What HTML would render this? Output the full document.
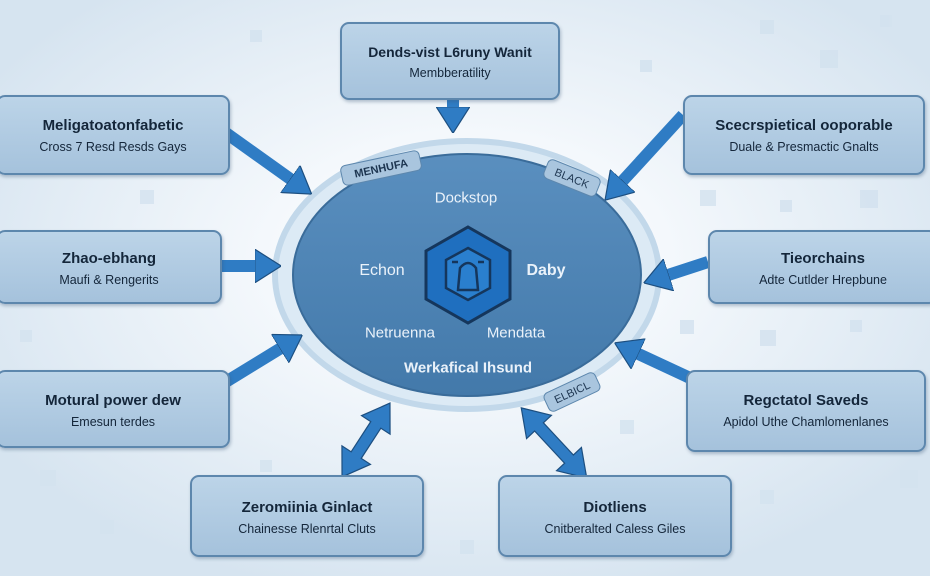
<!DOCTYPE html>
<html><head><meta charset="utf-8"><style>
body{margin:0;width:930px;height:576px;overflow:hidden;background:#eef4f9;font-family:"Liberation Sans",sans-serif;}
svg{position:absolute;left:0;top:0}
.b{position:absolute;background:linear-gradient(#bcd4e8,#a5c2dc);border:2px solid #5d87ad;border-radius:9px;text-align:center;box-shadow:1px 2px 3px rgba(60,90,120,.35);color:#14263a}
.b .t{font-weight:bold;font-size:15px;margin-top:20px}
.b .s{font-size:12.5px;margin-top:6px}
.l{position:absolute;color:#eaf2fa;font-size:15px;transform:translate(-50%,-50%);white-space:nowrap}
</style></head><body>
<svg width="930" height="576">
<defs>
<radialGradient id="bg" cx="0.5" cy="0.45" r="0.6"><stop offset="0.3" stop-color="#f7fafd"/><stop offset="1" stop-color="#d6e4f0"/></radialGradient>
<linearGradient id="el" x1="0" y1="0" x2="0" y2="1"><stop offset="0" stop-color="#5a8fbf"/><stop offset="1" stop-color="#4379aa"/></linearGradient>
<marker id="ah" markerWidth="2.2" markerHeight="2.8" refX="0.6" refY="1.4" orient="auto" markerUnits="strokeWidth"><path d="M0,0 L2.2,1.4 L0,2.8z" fill="#2f7cc4" stroke="#1d4f80" stroke-width="0.1"/></marker>
</defs>
<rect width="930" height="576" fill="url(#bg)"/>
<g fill="#d3e2ef" opacity="0.8">
<rect x="760" y="20" width="14" height="14"/><rect x="820" y="50" width="18" height="18"/><rect x="880" y="15" width="12" height="12"/><rect x="640" y="60" width="12" height="12"/><rect x="700" y="190" width="16" height="16"/><rect x="780" y="200" width="12" height="12"/><rect x="860" y="190" width="18" height="18"/><rect x="680" y="320" width="14" height="14"/><rect x="760" y="330" width="16" height="16"/><rect x="850" y="320" width="12" height="12"/><rect x="900" y="470" width="18" height="18"/><rect x="760" y="490" width="14" height="14"/><rect x="40" y="470" width="16" height="16"/><rect x="100" y="520" width="14" height="14"/><rect x="20" y="330" width="12" height="12"/><rect x="140" y="190" width="14" height="14"/><rect x="250" y="30" width="12" height="12"/><rect x="460" y="540" width="14" height="14"/><rect x="620" y="420" width="14" height="14"/><rect x="260" y="460" width="12" height="12"/>
</g>
<ellipse cx="467" cy="275" rx="192" ry="134" fill="#dceaf5" stroke="#c2d8ea" stroke-width="6"/>
<ellipse cx="467" cy="275" rx="174" ry="121" fill="url(#el)" stroke="#3a6c9a" stroke-width="2"/>
<polygon points="468,227 510,251 510,299 468,323 426,299 426,251" fill="#1f6fbf" stroke="#15365c" stroke-width="3"/>
<polygon points="468,248 490,260 490,288 468,300 446,288 446,260" fill="#2a7fce" stroke="#15365c" stroke-width="2.5"/>
<path d="M458,290 L460,268 Q468,258 476,268 L478,290 Z M452,262 l6,0 M478,262 l6,0" fill="none" stroke="#15365c" stroke-width="2.5"/>
<g stroke="#2f7cc4" stroke-width="12" fill="none" marker-end="url(#ah)">
<line x1="453" y1="98" x2="453" y2="114"/>
<line x1="226" y1="133" x2="296" y2="183"/>
<line x1="212" y1="266" x2="262" y2="266"/>
<line x1="224" y1="383" x2="286" y2="345"/>
<line x1="683" y1="115" x2="618" y2="186"/>
<line x1="708" y1="262" x2="662" y2="277"/>
<line x1="690" y1="378" x2="632" y2="351"/>
</g>
<g fill="#2f7cc4" stroke="#1d4f80" stroke-width="1.2">
<polygon transform="translate(366,440) rotate(-57)" points="-44,0 -18,-17 -18,-6 18,-6 18,-17 44,0 18,17 18,6 -18,6 -18,17"/>
<polygon transform="translate(554,443) rotate(47)" points="-48,0 -22,-17 -22,-6 22,-6 22,-17 48,0 22,17 22,6 -22,6 -22,17"/>
</g>
<g font-size="11" font-family="Liberation Sans" fill="#1d3550">
<g transform="translate(381,168) rotate(-12)"><rect x="-40" y="-10" width="80" height="20" rx="5" fill="#a9c5de" stroke="#5d87ad"/><text text-anchor="middle" y="4" font-weight="bold">MENHUFA</text></g>
<g transform="translate(572,178) rotate(22)"><rect x="-28" y="-10" width="56" height="20" rx="5" fill="#a9c5de" stroke="#5d87ad"/><text text-anchor="middle" y="4">BLACK</text></g>
<g transform="translate(572,392) rotate(-25)"><rect x="-28" y="-10" width="56" height="20" rx="5" fill="#a9c5de" stroke="#5d87ad"/><text text-anchor="middle" y="4">ELBICL</text></g>
</g>
</svg>
<div class="l" style="left:466px;top:198px">Dockstop</div>
<div class="l" style="left:382px;top:271px;font-size:16px">Echon</div>
<div class="l" style="left:546px;top:271px;font-size:16px;font-weight:bold">Daby</div>
<div class="l" style="left:400px;top:333px">Netruenna</div>
<div class="l" style="left:516px;top:333px">Mendata</div>
<div class="l" style="left:468px;top:368px;font-weight:bold">Werkafical Ihsund</div>

<div class="b" style="left:340px;top:22px;width:216px;height:74px"><div class="t" style="margin-top:20px;font-size:14px">Dends-vist L6runy Wanit</div><div class="s">Membberatility</div></div>
<div class="b" style="left:-4px;top:95px;width:230px;height:76px"><div class="t">Meligatoatonfabetic</div><div class="s">Cross 7 Resd Resds Gays</div></div>
<div class="b" style="left:-4px;top:230px;width:222px;height:70px"><div class="t" style="margin-top:18px">Zhao-ebhang</div><div class="s">Maufi &amp; Rengerits</div></div>
<div class="b" style="left:-4px;top:370px;width:230px;height:74px"><div class="t">Motural power dew</div><div class="s">Emesun terdes</div></div>
<div class="b" style="left:683px;top:95px;width:238px;height:76px"><div class="t">Scecrspietical ooporable</div><div class="s">Duale &amp; Presmactic Gnalts</div></div>
<div class="b" style="left:708px;top:230px;width:226px;height:70px"><div class="t" style="margin-top:18px">Tieorchains</div><div class="s">Adte Cutlder Hrepbune</div></div>
<div class="b" style="left:686px;top:370px;width:236px;height:78px"><div class="t">Regctatol Saveds</div><div class="s">Apidol Uthe Chamlomenlanes</div></div>
<div class="b" style="left:190px;top:475px;width:230px;height:78px"><div class="t" style="margin-top:22px">Zeromiinia Ginlact</div><div class="s">Chainesse Rlenrtal Cluts</div></div>
<div class="b" style="left:498px;top:475px;width:230px;height:78px"><div class="t" style="margin-top:22px">Diotliens</div><div class="s">Cnitberalted Caless Giles</div></div>
</body></html>
